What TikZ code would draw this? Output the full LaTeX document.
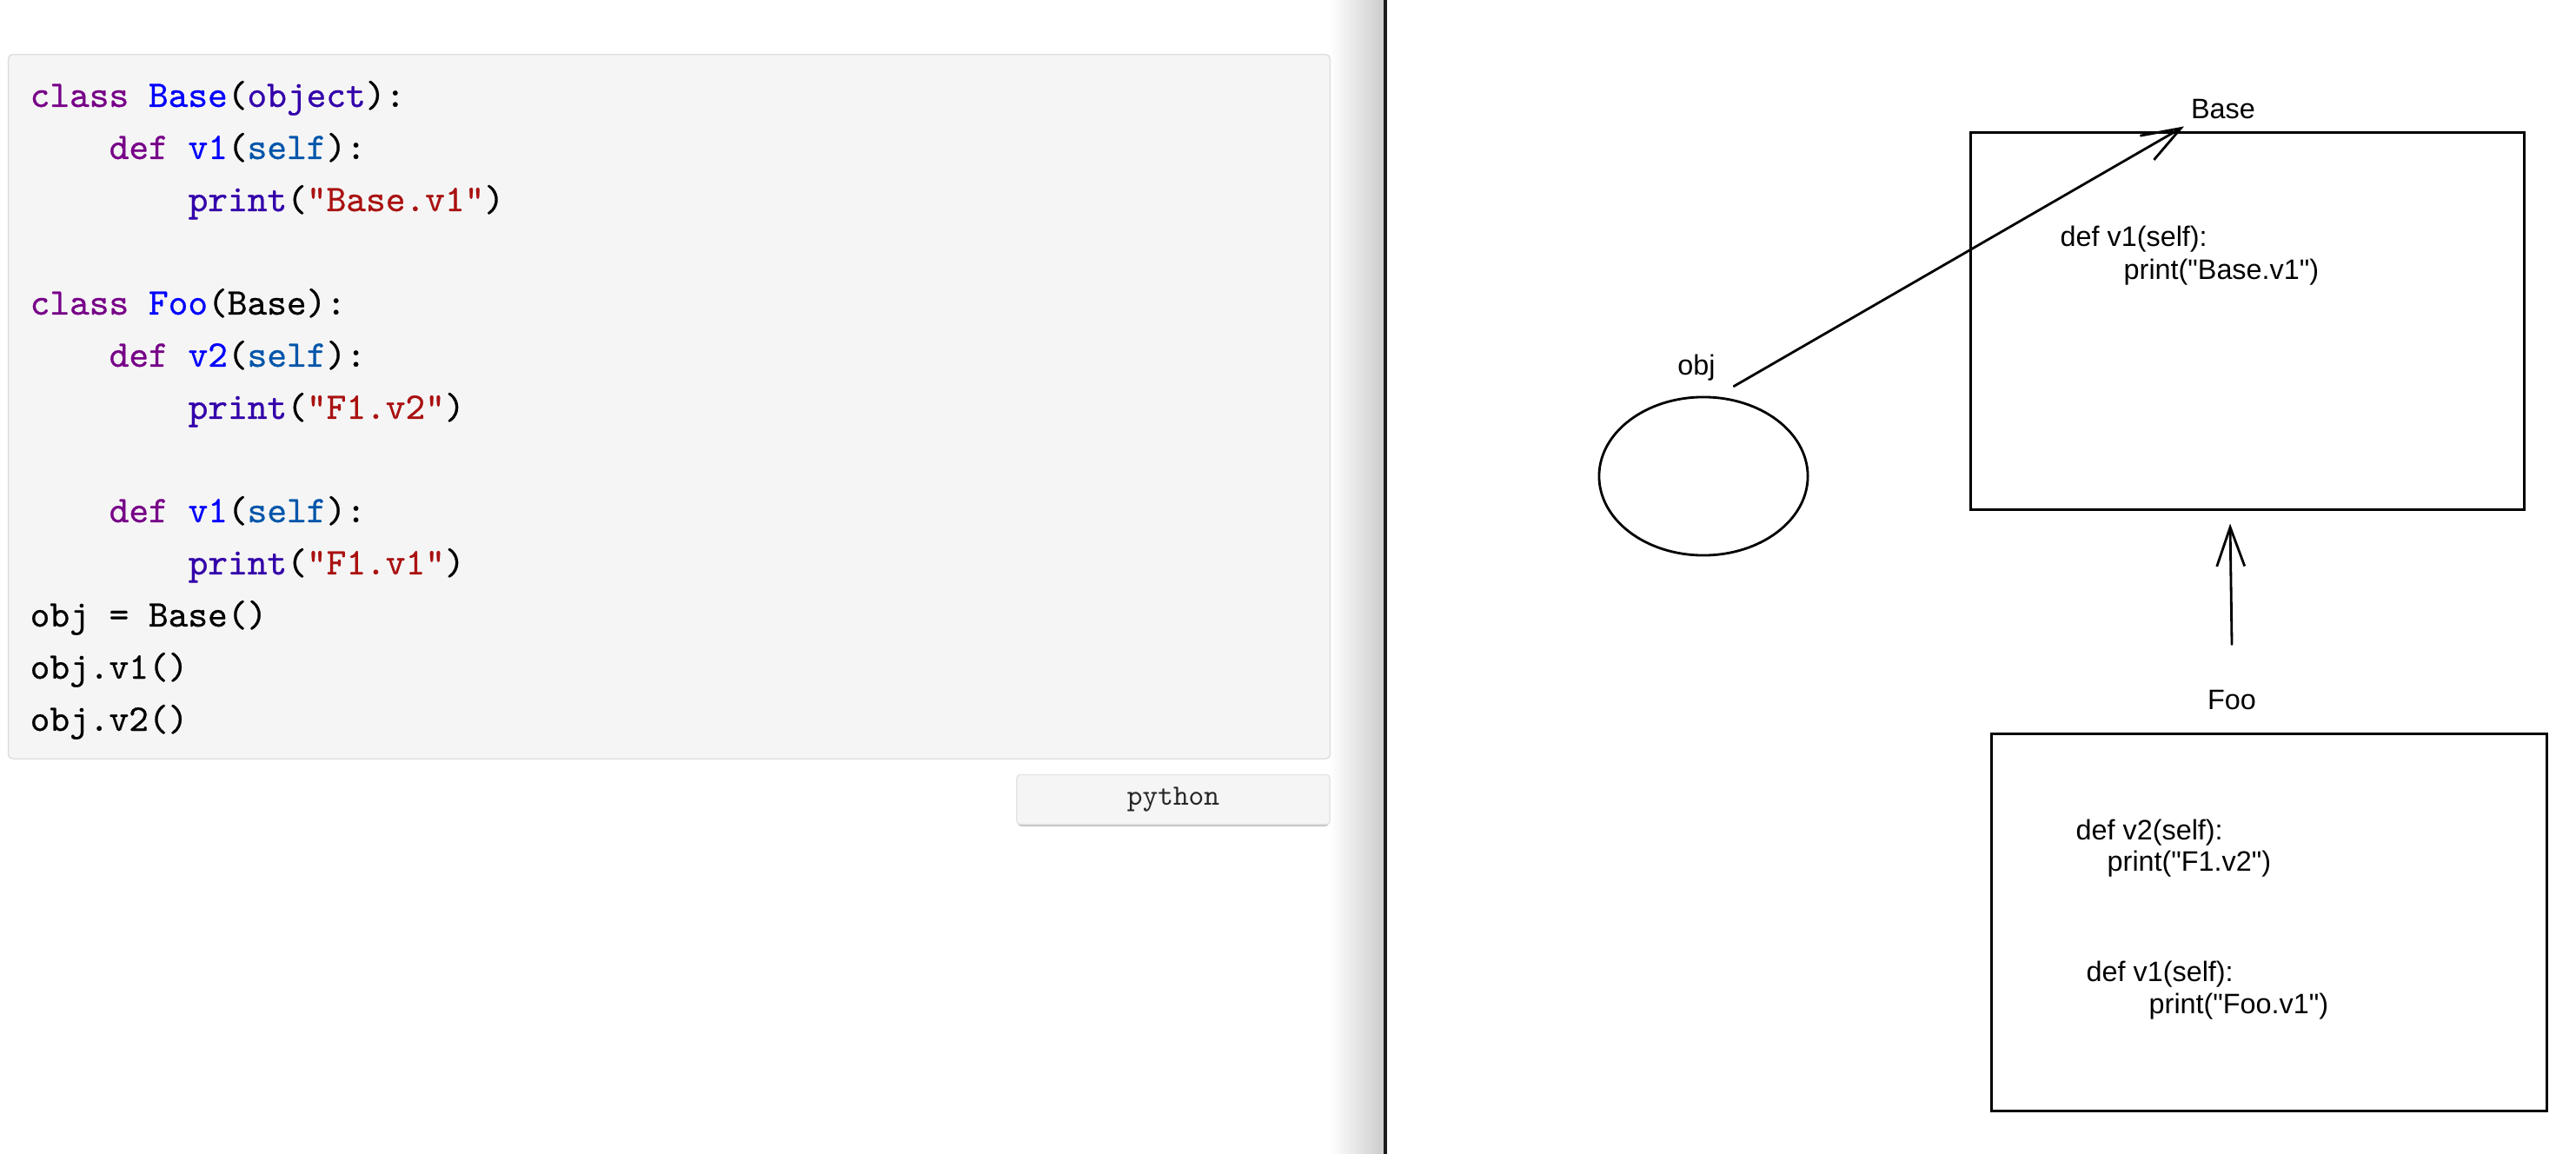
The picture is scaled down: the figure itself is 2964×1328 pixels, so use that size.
\documentclass[tikz,border=0pt]{standalone}
\usepackage{fontspec}
\setsansfont{Liberation Sans}
\setmonofont[FakeBold=0.6]{lmmono10-regular.otf}
\newfontfamily\buttonmono{lmmono10-regular.otf}
\usepackage{xcolor}
\usetikzlibrary{shapes.geometric,arrows.meta,calc}

\definecolor{pykw}{HTML}{770088}
\definecolor{pydef}{HTML}{0000FF}
\definecolor{pyvar}{HTML}{0055AA}
\definecolor{pybuiltin}{HTML}{3300AA}
\definecolor{pystring}{HTML}{AA1111}
\definecolor{codebg}{HTML}{F5F5F5}
\definecolor{codeframe}{HTML}{DDDDDD}
\definecolor{divider}{HTML}{1A1A1A}

\newcommand{\pykw}[1]{\textcolor{pykw}{#1}}
\newcommand{\pydef}[1]{\textcolor{pydef}{#1}}
\newcommand{\pyvar}[1]{\textcolor{pyvar}{#1}}
\newcommand{\pybuiltin}[1]{\textcolor{pybuiltin}{#1}}
\newcommand{\pystring}[1]{\textcolor{pystring}{#1}}
\newcommand{\dq}{\textquotedbl}

\begin{document}
\begin{tikzpicture}[x=0.01cm, y=-0.01cm,
  codeline/.style={anchor=base west, inner sep=0pt, text=black,
    font=\ttfamily\fontsize{12.3}{15}\selectfont},
  langbutton/.style={fill=codebg, draw=black!10, rounded corners=0.04cm, inner sep=0pt,
    minimum width=3.60cm, minimum height=0.57cm, text=black!85,
    font=\buttonmono\fontsize{9.6}{11}\selectfont},
  sketchbox/.style={draw, line width=0.8pt, rectangle, inner sep=0pt},
  sketchtext/.style={anchor=base west, inner sep=0pt, font=\sffamily\fontsize{9.2}{11}\selectfont},
  sketchlabel/.style={anchor=base, inner sep=0pt, font=\sffamily\fontsize{9.2}{11}\selectfont},
  sketcharrow/.style={line width=0.8pt, line cap=round, line join=round,
    -{Straight Barb[length=0.45cm,width=0.32cm]}}]

\useasboundingbox (0,0) rectangle (2964,1328);
\fill[white] (0,0) rectangle (2964,1328);
\shade[left color=white, right color=black!20] (1530,0) rectangle (1592,1328);
\fill[divider] (1592,0) rectangle (1596,1328);

\node[draw=codeframe, fill=codebg, rounded corners=0.05cm, inner sep=0pt,
  minimum width=15.20cm, minimum height=8.10cm] (codebox) at (770,468) {};

\node[codeline] (cbase) at (34,123) {\pykw{class} \pydef{Base}(\pybuiltin{object}):};
\node[codeline] (cbasedef) at (125,183) {\pykw{def} \pydef{v1}(\pyvar{self}):};
\node[codeline] (cbaseprint) at (216,243) {\pybuiltin{print}(\pystring{"Base.v1"})};
\node[codeline] (cfoo) at (34,362) {\pykw{class} \pydef{Foo}(Base):};
\node[codeline] (cfoodeftwo) at (125,422) {\pykw{def} \pydef{v2}(\pyvar{self}):};
\node[codeline] (cfooprinttwo) at (216,482) {\pybuiltin{print}(\pystring{"F1.v2"})};
\node[codeline] (cfoodefone) at (125,601) {\pykw{def} \pydef{v1}(\pyvar{self}):};
\node[codeline] (cfooprintone) at (216,661) {\pybuiltin{print}(\pystring{"F1.v1"})};
\node[codeline] (cobj) at (34,721) {obj = Base()};
\node[codeline] (cobjone) at (34,781) {obj.v1()};
\node[codeline] (cobjtwo) at (34,841) {obj.v2()};

\fill[black!22, rounded corners=0.04cm] (1171,896) rectangle (1529,951);
\node[langbutton] (langbtn) at (1350,920) {python};

\node[sketchbox, minimum width=6.36cm, minimum height=4.33cm] (basebox) at (2586,369.5) {};
\node[sketchlabel] (baselabel) at (2558,137) {Base};
\node[sketchtext] (basedef) at (2370,284) {def v1(self):};
\node[sketchtext] (baseprint) at (2443,322) {print(\dq Base.v1\dq)};

\node[draw, ellipse, line width=0.8pt, inner sep=0pt,
  minimum width=2.40cm, minimum height=1.82cm] (objcircle) at (1960,548) {};
\node[sketchlabel] (objlabel) at (1952,432) {obj};

\node[sketchlabel] (foolabel) at (2568,816) {Foo};
\node[sketchbox, minimum width=6.38cm, minimum height=4.33cm] (foobox) at (2611,1061.5) {};
\node[sketchtext] (foodeftwo) at (2388,966) {def v2(self):};
\node[sketchtext] (fooprinttwo) at (2424,1002) {print(\dq F1.v2\dq)};
\node[sketchtext] (foodefone) at (2400,1129) {def v1(self):};
\node[sketchtext] (fooprintone) at (2472,1166) {print(\dq Foo.v1\dq)};

\draw[sketcharrow] ($(objcircle.north)+(35,-11)$) -- ($(basebox.north)+(-73,-6)$);
\draw[sketcharrow] ($(foobox.north)+(-43,-102)$) -- ($(basebox.south)+(-20,15)$);
\end{tikzpicture}
\end{document}
